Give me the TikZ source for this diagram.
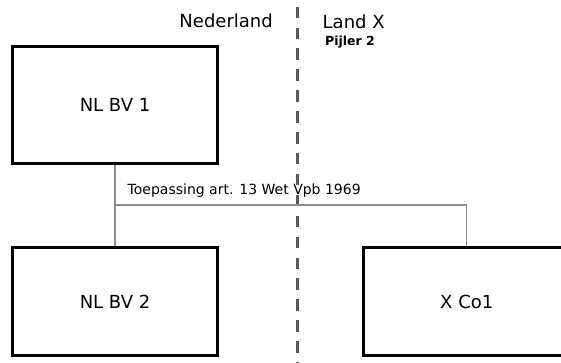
\documentclass[tikz,border=0pt]{standalone}
\usepackage{fontspec}
\setmainfont{DejaVu Sans}
\begin{document}
\begin{tikzpicture}[x=1pt,y=-1pt,
  entity/.style={draw=black,line width=3pt,rectangle,inner sep=0pt,font=\fontsize{18}{20}\selectfont},
  conn/.style={draw=black!45,line width=1.4pt},
  border/.style={draw=black!65,line width=3pt,dash pattern=on 11.5pt off 9.4pt},
  head/.style={font=\fontsize{18}{20}\selectfont,inner sep=0pt},
  sub/.style={font=\bfseries\fontsize{12.5}{14}\selectfont,inner sep=0pt},
  lbl/.style={font=\fontsize{14}{16}\selectfont,inner sep=0pt}]
\clip (0,0) rectangle (561,363);
\fill[white] (0,0) rectangle (561,363);
\coordinate (btop) at (297,6.7);
\coordinate (bbot) at (297,363);
\draw[border] (btop) -- (bbot);
\node[head,anchor=base east] (nl) at (273,28) {Nederland};
\node[head,anchor=base west] (lx) at (322.5,29) {Land X};
\node[sub,anchor=base west] (pj) at (325,46) {Pijler 2};
\node[entity,minimum width=205pt,minimum height=117pt] (b1) at (115,105) {NL BV 1};
\node[entity,minimum width=205pt,minimum height=108pt] (b2) at (115,301.5) {NL BV 2};
\node[entity,minimum width=207pt,minimum height=108pt] (x1) at (466.75,301.5) {X Co1};
\coordinate (j) at (115,205);
\draw[conn] (b1.south) -- (b2.north);
\draw[conn] (j) -| (x1.north);
\node[lbl,anchor=base west] (tl) at (127.5,195) {Toepassing art. 13 Wet Vpb 1969};
\end{tikzpicture}
\end{document}
